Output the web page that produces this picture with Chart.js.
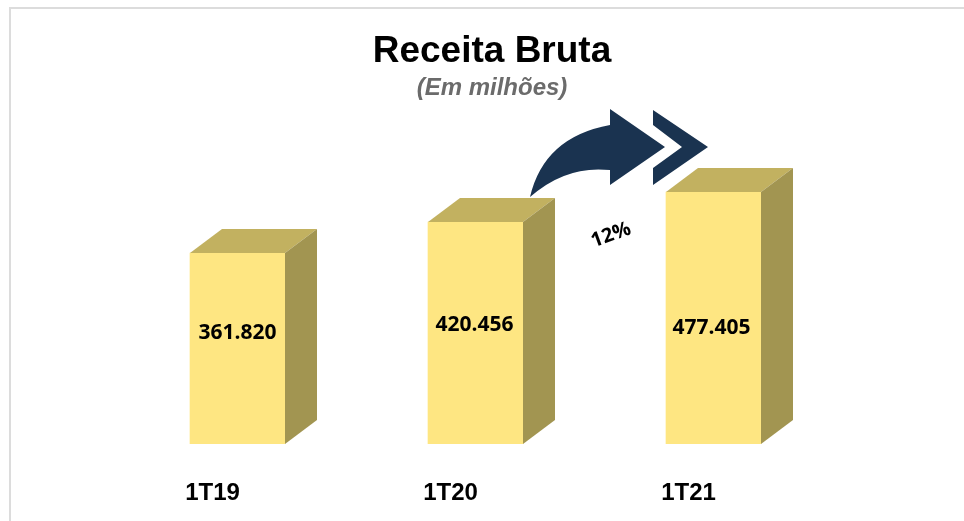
<!DOCTYPE html>
<html lang="pt-BR">
<head>
<meta charset="utf-8">
<title>Receita Bruta</title>
<script src="https://cdn.jsdelivr.net/npm/chart.js@4"></script>
<style>
	html, body { margin: 0; width: 964px; height: 521px; overflow: hidden; background: #fff; }
	.frame { position: absolute; left: 9px; top: 7px; border-top: 2px solid #dcdcdc; border-left: 2px solid #dcdcdc; }
	canvas { display: block; }
</style>
</head>
<body>
<div class="frame"><canvas id="receita" width="962" height="530"></canvas></div>
<script>
const categories = ["1T19", "1T20", "1T21"];
const receita = [361820, 420456, 477405];
const variacao = "12%";

// cores das faces da barra
const corFrente = "#fee682";
const corTopo = "#c2b160";
const corLado = "#a29551";
const corSeta = "#1a3350";

// profundidade do efeito 3D
const fundoX = 32;
const fundoY = 24;

// posição de cada rótulo de valor, em relação ao topo da barra
const rotuloDesce = [80, 103, 136];
const rotuloDesvio = [0, -1, -2];

const barras3d = {
	id: "barras3d",
	afterDatasetsDraw(chart) {
		const ctx = chart.ctx;
		const bars = chart.getDatasetMeta(0).data;

		bars.forEach((bar, i) => {
			const esq = bar.x - bar.width / 2;
			const dir = bar.x + bar.width / 2;

			ctx.fillStyle = corTopo;
			ctx.beginPath();
			ctx.moveTo(esq, bar.y);
			ctx.lineTo(esq + fundoX, bar.y - fundoY);
			ctx.lineTo(dir + fundoX, bar.y - fundoY);
			ctx.lineTo(dir, bar.y);
			ctx.closePath();
			ctx.fill();

			ctx.fillStyle = corLado;
			ctx.beginPath();
			ctx.moveTo(dir, bar.y);
			ctx.lineTo(dir + fundoX, bar.y - fundoY);
			ctx.lineTo(dir + fundoX, bar.base - fundoY);
			ctx.lineTo(dir, bar.base);
			ctx.closePath();
			ctx.fill();

			ctx.fillStyle = "#000";
			ctx.font = "bold 21px 'Open Sans'";
			ctx.textAlign = "center";
			ctx.textBaseline = "middle";
			ctx.fillText(receita[i].toLocaleString("pt-BR"), bar.x + rotuloDesvio[i], bar.y + rotuloDesce[i]);
		});

		// seta saindo do topo da barra 1T20
		const x0 = bars[1].x + bars[1].width / 2 + 7;
		const y0 = bars[1].y - fundoY - 1;

		ctx.fillStyle = corSeta;
		ctx.beginPath();
		ctx.moveTo(x0, y0);
		ctx.quadraticCurveTo(x0 + 14, y0 - 60, x0 + 80, y0 - 72);
		ctx.lineTo(x0 + 80, y0 - 88);
		ctx.lineTo(x0 + 135, y0 - 50);
		ctx.lineTo(x0 + 80, y0 - 12);
		ctx.lineTo(x0 + 80, y0 - 27);
		ctx.quadraticCurveTo(x0 + 36, y0 - 32, x0, y0);
		ctx.closePath();
		ctx.fill();

		ctx.beginPath();
		ctx.moveTo(x0 + 123, y0 - 87);
		ctx.lineTo(x0 + 178, y0 - 50);
		ctx.lineTo(x0 + 123, y0 - 12);
		ctx.lineTo(x0 + 123, y0 - 29);
		ctx.lineTo(x0 + 152, y0 - 50);
		ctx.lineTo(x0 + 123, y0 - 72);
		ctx.closePath();
		ctx.fill();

		ctx.save();
		ctx.translate(x0 + 81, y0 + 38);
		ctx.rotate(-20 * Math.PI / 180);
		ctx.fillStyle = "#000";
		ctx.font = "bold 20px 'Open Sans'";
		ctx.textAlign = "center";
		ctx.textBaseline = "middle";
		ctx.fillText(variacao, 0, 0);
		ctx.restore();
	},
};

new Chart(document.getElementById("receita"), {
	type: "bar",
	data: {
		labels: categories,
		datasets: [
			{
				label: "Receita Bruta",
				data: receita,
				backgroundColor: corFrente,
				barThickness: 95,
			},
		],
	},
	options: {
		responsive: false,
		animation: false,
		layout: { padding: { top: 0, bottom: 5, left: 0, right: 0 } },
		plugins: {
			legend: { display: false },
			tooltip: { enabled: false },
			title: {
				display: true,
				text: "Receita Bruta",
				color: "#000",
				font: { family: "'Liberation Sans'", size: 37, weight: "bold" },
				padding: { top: 21, bottom: 0 },
			},
			subtitle: {
				display: true,
				text: "(Em milhões)",
				color: "#6b6b6b",
				font: { family: "'Liberation Sans'", size: 24, weight: "bold", style: "italic" },
				padding: { top: 0, bottom: 0 },
			},
		},
		scales: {
			x: {
				grid: { display: false },
				border: { display: false },
				ticks: {
					color: "#000",
					font: { family: "'Liberation Sans'", size: 24, weight: "bold" },
					padding: 26.6,
					labelOffset: -25,
					maxRotation: 0,
					autoSkip: false,
				},
			},
			y: {
				min: 0,
				max: 645800,
				grid: { display: false },
				border: { display: false },
				ticks: { display: false },
				afterFit: (scale) => { scale.width = 107.5; },
			},
			margem: {
				position: "right",
				grid: { display: false },
				border: { display: false },
				ticks: { display: false },
				afterFit: (scale) => { scale.width = 140.5; },
			},
		},
	},
	plugins: [barras3d],
});
</script>
</body>
</html>
